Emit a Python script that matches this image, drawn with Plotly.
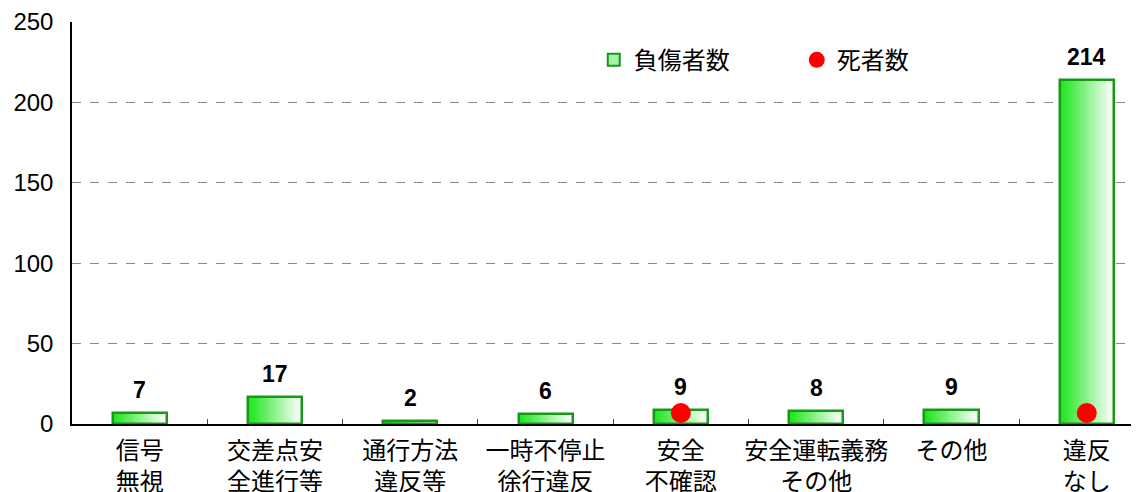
import plotly.graph_objects as go

categories = ["信号<br>無視", "交差点安<br>全進行等", "通行方法<br>違反等", "一時不停止<br>徐行違反",
              "安全<br>不確認", "安全運転義務<br>その他", "その他", "違反<br>なし"]
injured = [7, 17, 2, 6, 9, 8, 9, 214]
deaths = [0, 0, 0, 0, 1, 0, 0, 1]
y_ticks = [0, 50, 100, 150, 200, 250]

LAT = "Liberation Sans, Arial, sans-serif"
JP = "Noto Sans CJK JP, sans-serif"

fig = go.Figure()

bw = 0.40
N = 24
left = (30, 230, 30)
right = (255, 255, 255)
for i in range(N):
    t = i / (N - 1)
    c = tuple(int(left[k] + (right[k] - left[k]) * t) for k in range(3))
    fig.add_trace(go.Bar(
        x=categories, y=injured, width=bw / N + 0.002, offset=-bw / 2 + i * bw / N,
        marker=dict(color=f"rgb{c}", line=dict(width=0)),
        showlegend=False, hoverinfo="skip"))

# outline
fig.add_trace(go.Bar(
    x=categories, y=injured, width=bw, offset=-bw / 2,
    marker=dict(color="rgba(0,0,0,0)", line=dict(color="#169a16", width=2.5)),
    showlegend=False))

# legend entries
fig.add_trace(go.Bar(x=[categories[0]], y=[None], name="負傷者数",
                     marker=dict(color="#a8f0a8", line=dict(color="#169a16", width=2))))

dx = [c for c, d in zip(categories, deaths) if d > 0]
dy = [d for d in deaths if d > 0]
fig.add_trace(go.Scatter(x=dx, y=dy, yaxis="y2", mode="markers", name="死者数",
                         marker=dict(color="#ff0000", size=20, line=dict(width=0))))

for c, v in zip(categories, injured):
    fig.add_annotation(x=c, y=v, text=f"<b>{v}</b>", showarrow=False, yshift=23,
                       font=dict(family=LAT, size=23, color="black"))

fig.update_layout(
    width=1131, height=484,
    margin=dict(l=64, r=0, t=14, b=68, autoexpand=False),
    plot_bgcolor="white", paper_bgcolor="white",
    barmode="overlay", bargap=0,
    legend=dict(orientation="h", x=0.489, y=0.905, xanchor="left", yanchor="middle",
                font=dict(family=JP, size=24, color="black"), entrywidth=158,
                bgcolor="rgba(0,0,0,0)", itemwidth=30),
    xaxis=dict(range=[-0.5, 7.386], showline=True, linecolor="black", linewidth=1.5,
               ticks="inside", tickson="boundaries", ticklen=5, tickcolor="#444",
               tickfont=dict(family=JP, size=24, color="black"), showgrid=False,
               ticklabelstandoff=4, tickangle=0, automargin=False),
    yaxis=dict(range=[0, 250], tickvals=y_ticks, showline=True, linecolor="black", linewidth=1.5,
               showgrid=True, gridcolor="#888", griddash="dash", gridwidth=1,
               tickfont=dict(family=LAT, size=24, color="black"), ticks="", ticklabelstandoff=12,
               zeroline=False, automargin=False),
    yaxis2=dict(range=[0, 36.5], overlaying="y", visible=False),
)

fig.write_html("out.html")
